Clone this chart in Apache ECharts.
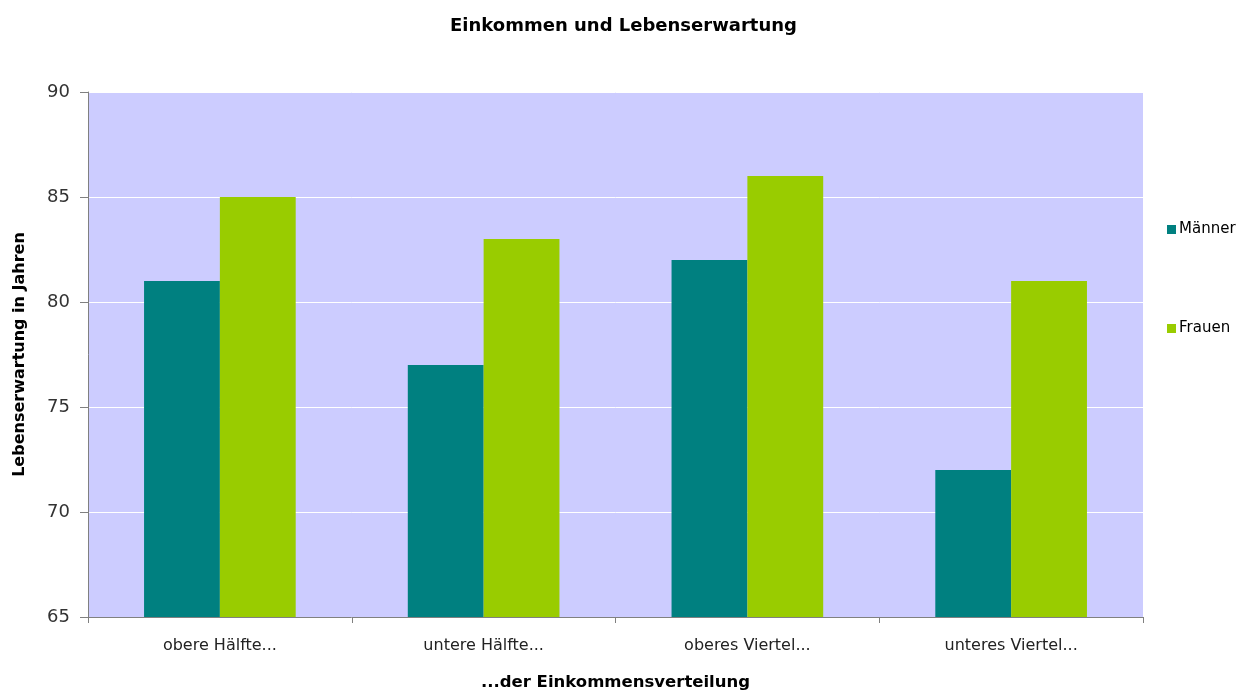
<!DOCTYPE html>
<html>
<head>
<meta charset="utf-8">
<style>
  html, body { margin: 0; padding: 0; background: #ffffff; }
  #chart { width: 1247px; height: 691px; }
</style>
<script src="https://cdn.jsdelivr.net/npm/echarts@6/dist/echarts.min.js"></script>
</head>
<body>
<div id="chart"></div>
<script>
// Life expectancy by position in the income distribution
const categories = ['obere Hälfte...', 'untere Hälfte...', 'oberes Viertel...', 'unteres Viertel...'];
const maenner = [81, 77, 82, 72];
const frauen = [85, 83, 86, 81];
const seriesNames = ['Männer', 'Frauen'];

const font = '"DejaVu Sans", Verdana, sans-serif';
const chart = echarts.init(document.getElementById('chart'));

chart.setOption({
  animation: false,
  title: {
    text: 'Einkommen und Lebenserwartung',
    left: 'center',
    top: 12,
    textStyle: { fontFamily: font, fontSize: 18, fontWeight: 'bold', color: '#000' }
  },
  legend: {
    orient: 'vertical',
    left: 1162,
    top: 217,
    itemGap: 84,
    itemWidth: 9,
    itemHeight: 9,
    icon: 'rect',
    data: seriesNames,
    textStyle: { fontFamily: font, fontSize: 15, color: '#000', padding: [0, 0, 0, -2] }
  },
  grid: {
    left: 88, right: 104, top: 92, bottom: 74,
    outerBoundsMode: 'none',
    show: true,
    backgroundColor: '#ccccff',
    borderWidth: 0
  },
  xAxis: {
    type: 'category',
    data: categories,
    name: '...der Einkommensverteilung',
    nameLocation: 'middle',
    nameGap: 57,
    nameTextStyle: { fontFamily: font, fontSize: 16.5, fontWeight: 'bold', color: '#000' },
    axisLine: { lineStyle: { color: '#808080', width: 1 } },
    axisTick: { show: true, length: 6, lineStyle: { color: '#808080' } },
    axisLabel: { fontFamily: font, fontSize: 16, color: '#222', margin: 21 }
  },
  yAxis: {
    type: 'value',
    min: 65,
    max: 90,
    interval: 5,
    name: 'Lebenserwartung in Jahren',
    nameLocation: 'middle',
    nameGap: 60,
    nameTextStyle: { fontFamily: font, fontSize: 16, fontWeight: 'bold', color: '#000' },
    axisLine: { show: true, lineStyle: { color: '#808080', width: 1 } },
    axisTick: { show: true, length: 8, lineStyle: { color: '#808080' } },
    axisLabel: { fontFamily: font, fontSize: 18, color: '#333', margin: 18 },
    splitLine: { show: true, lineStyle: { color: '#ffffff', width: 1 } }
  },
  series: [
    {
      name: seriesNames[0],
      type: 'bar',
      data: maenner,
      barGap: '0%',
      barCategoryGap: '42.5%',
      itemStyle: { color: '#008080' }
    },
    {
      name: seriesNames[1],
      type: 'bar',
      data: frauen,
      barGap: '0%',
      barCategoryGap: '42.5%',
      itemStyle: { color: '#99cc00' }
    }
  ]
});
</script>
</body>
</html>
